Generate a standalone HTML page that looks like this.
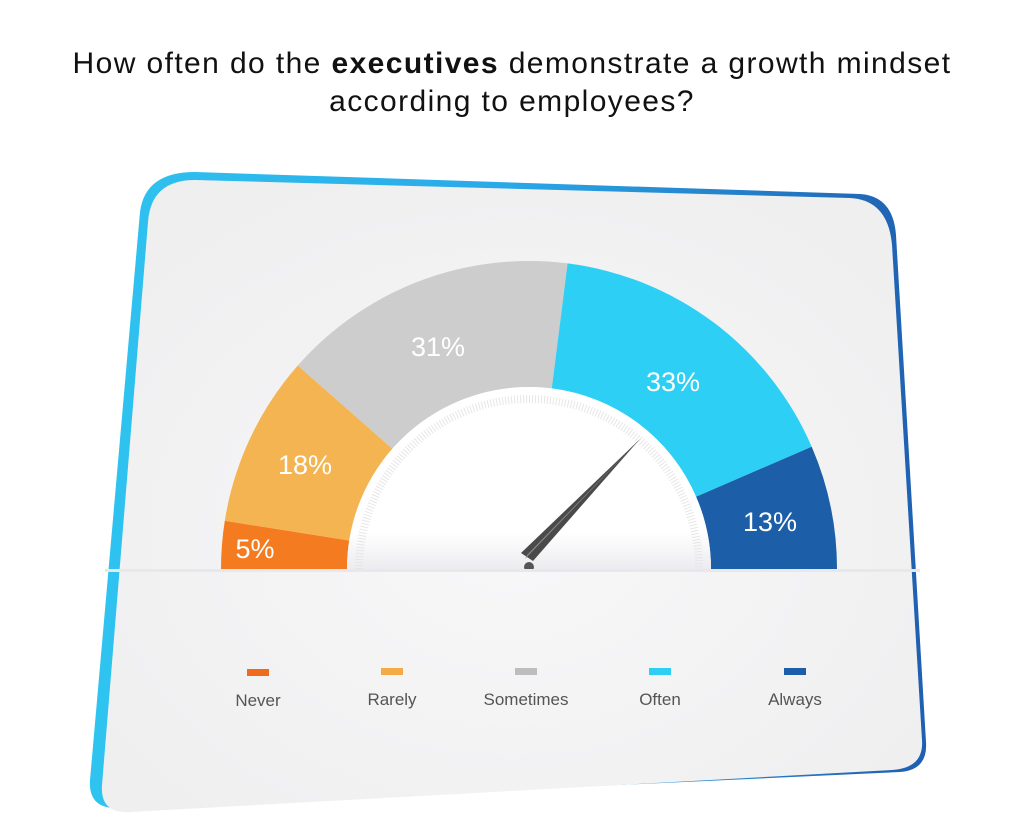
<!DOCTYPE html>
<html><head><meta charset="utf-8"><style>
body{margin:0;background:#fff;width:1024px;height:828px;overflow:hidden;font-family:"Liberation Sans",sans-serif}
</style></head><body>
<svg width="1024" height="828" viewBox="0 0 1024 828" xmlns="http://www.w3.org/2000/svg">
<defs>
<linearGradient id="bl" x1="0" y1="0" x2="1" y2="0"><stop offset="0" stop-color="#2fc4f0"/><stop offset="0.5" stop-color="#2aa8e8"/><stop offset="1" stop-color="#1f5fb0"/></linearGradient>
<radialGradient id="cg" cx="0.5" cy="0.55" r="0.6"><stop offset="0" stop-color="#f8f8f9"/><stop offset="1" stop-color="#efeff0"/></radialGradient>
<linearGradient id="ig" x1="0" y1="0" x2="0" y2="1"><stop offset="0.8" stop-color="#fff"/><stop offset="1" stop-color="#ececf0"/></linearGradient>
</defs>
<text x="512" y="73" text-anchor="middle" font-size="30" letter-spacing="1.4" fill="#111">How often do the <tspan font-weight="bold">executives</tspan> demonstrate a growth mindset</text>
<text x="512" y="111" text-anchor="middle" font-size="30" letter-spacing="1.4" fill="#111">according to employees?</text>
<path d="M195,172 L860,194 Q893,196 896,235 L926,742 Q928,770 900,772 L120,808 Q88,810 90,780 L140,212 Q145,172 195,172 Z" fill="url(#bl)"/>
<path d="M195,180 L850,198 Q888,200 892,245 L922,740 Q924,768 892,770 L130,812 Q100,814 102,785 L148,222 Q151,180 195,180 Z" fill="url(#cg)"/>
<g transform="translate(529,569)">
<path d="M-308,0 A308,308 0 0 1 -304.2,-48.2 L-179.8,-28.5 A182,182 0 0 0 -182,0 Z" fill="#f47b20"/>
<path d="M-304.2,-48.2 A308,308 0 0 1 -231.2,-203.5 L-136.6,-120.2 A182,182 0 0 0 -179.8,-28.5 Z" fill="#f3b451"/>
<path d="M-231.2,-203.5 A308,308 0 0 1 38.6,-305.6 L22.8,-180.6 A182,182 0 0 0 -136.6,-120.2 Z" fill="#cdcdcd"/>
<path d="M38.6,-305.6 A308,308 0 0 1 282.7,-122.3 L167.1,-72.3 A182,182 0 0 0 22.8,-180.6 Z" fill="#2ecff5"/>
<path d="M282.7,-122.3 A308,308 0 0 1 308,0 L182,0 A182,182 0 0 0 167.1,-72.3 Z" fill="#1c5ea8"/>
<path d="M-182,0 A182,182 0 0 1 182,0 Z" fill="url(#ig)"/>
<path d="M-170,0 A170,170 0 0 1 170,0" fill="none" stroke="#e6e6e6" stroke-width="8" stroke-dasharray="1 2"/>
<polygon points="111,-130 4,-8 -8,-16" fill="#4a4a4a"/>
<polygon points="111,-130 -4,-10 -2,-14" fill="#8a8a8a"/>
<circle cx="0" cy="-2" r="5" fill="#555"/>
</g>
<rect x="105" y="569" width="815" height="3" fill="#e8e8ec"/>
<g fill="#fff" font-size="27" text-anchor="middle">
<text x="255" y="558">5%</text><text x="305" y="474">18%</text><text x="438" y="356">31%</text><text x="673" y="391">33%</text><text x="770" y="531">13%</text>
</g>
<rect x="247" y="669" width="22" height="7" fill="#f06a1e"/>
<rect x="381" y="668" width="22" height="7" fill="#f3ac45"/>
<rect x="515" y="668" width="22" height="7" fill="#bdbdbd"/>
<rect x="649" y="668" width="22" height="7" fill="#2ecff5"/>
<rect x="784" y="668" width="22" height="7" fill="#1c5ea8"/>
<g fill="#555" font-size="17" text-anchor="middle">
<text x="258" y="706">Never</text><text x="392" y="705">Rarely</text><text x="526" y="705">Sometimes</text><text x="660" y="705">Often</text><text x="795" y="705">Always</text>
</g>
</svg>
</body></html>
